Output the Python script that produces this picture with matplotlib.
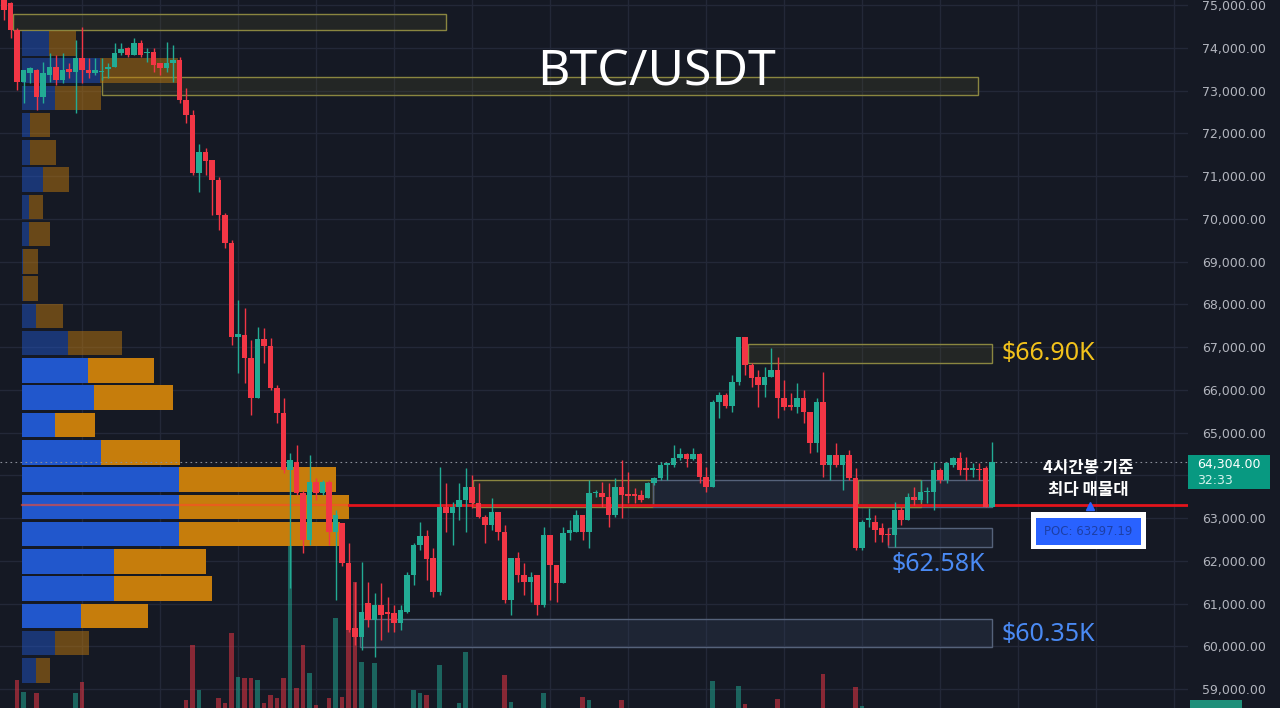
import matplotlib
matplotlib.use('Agg')
import matplotlib.pyplot as plt
from matplotlib.patches import Rectangle
import matplotlib.transforms as mtrans
from matplotlib.ticker import FuncFormatter
import numpy as np

# ---------------- data ----------------
opens = [75117, 75047, 74415, 73199, 73410, 73480, 72848, 73363, 73550, 73246,
         73503, 73433, 73760, 73480, 73410, 73433, 73503, 73550, 73877, 73994,
         73831, 74111, 73877, 73901, 73643, 73526, 73643, 73714, 72778, 72427,
         71070, 71562, 71375, 70907, 70088, 69433, 67234, 67281, 66744, 65808,
         67188, 67024, 66042, 65457, 64124, 64311, 63586, 62486, 63843, 63586,
         63843, 62673, 62884, 61949, 60428, 60217, 61013, 60615, 60966, 60802,
         60779, 60545, 60802, 61668, 62370, 62580, 62066, 61270, 63258, 63117,
         63258, 63422, 63726, 63352, 63024, 62837, 63141, 62673, 61083, 62066,
         61668, 61504, 61668, 60966, 62603, 61902, 61481, 62650, 62673, 63071,
         62673, 63586, 63586, 63493, 63071, 63726, 63562, 63562, 63539, 63469,
         63820, 63937, 64241, 64241, 64405, 64499, 64381, 64499, 63960, 63726,
         65714, 65878, 65621, 66182, 67234, 66580, 66299, 66112, 66299, 66463,
         65808, 65644, 65597, 65808, 65480, 64755, 65714, 64241, 64475, 64241,
         64475, 63937, 62300, 62954, 62907, 62767, 62627, 62603, 63188, 62954,
         63493, 63422, 63609, 63609, 64124, 63890, 64241, 64405, 64171, 64124,
         64148, 64171, 63258]
highs = [75187, 75070, 74462, 73480, 73550, 73503, 73667, 73877, 73831, 73877,
         73643, 74181, 74485, 73760, 73760, 73760, 73643, 74111, 74111, 74018,
         74228, 74181, 73994, 73994, 73643, 74135, 74065, 73784, 73059, 72544,
         71749, 71655, 71375, 70977, 70135, 69503, 68100, 67913, 67164, 67468,
         67445, 67211, 66112, 65808, 64522, 64709, 63656, 64475, 63937, 63890,
         63890, 63188, 62884, 62417, 61504, 61972, 61504, 61247, 61481, 61153,
         60966, 60966, 61738, 62417, 62907, 62720, 62300, 64194, 63820, 63376,
         63820, 64171, 64007, 63820, 63071, 63469, 63141, 62837, 62066, 62206,
         61949, 61738, 61668, 62790, 62603, 61902, 62790, 62954, 63188, 63071,
         63890, 63656, 63843, 63820, 63937, 64358, 64077, 63703, 63656, 63843,
         63960, 64311, 64287, 64709, 64638, 64522, 64638, 64522, 64194, 65761,
         65948, 65925, 66346, 67234, 67234, 66626, 66463, 66533, 66977, 66767,
         66229, 65925, 66159, 65995, 65480, 65808, 66416, 64475, 64755, 64475,
         64592, 64171, 62954, 63235, 63071, 62884, 62767, 63376, 63258, 63586,
         63726, 63890, 63726, 64311, 64171, 64311, 64428, 64545, 64428, 64287,
         64287, 64217, 64779]
lows = [74649, 74228, 73012, 72708, 73176, 72544, 72708, 73199, 73129, 73176,
        73293, 72474, 73176, 73293, 73363, 73246, 73293, 73550, 73831, 73784,
        73831, 73784, 73667, 73433, 73363, 73433, 73199, 72708, 72240, 71024,
        70626, 71024, 70088, 69737, 69316, 67047, 66392, 66159, 65410, 65808,
        66626, 65995, 65223, 64054, 61364, 63539, 62183, 62370, 63422, 63539,
        62370, 61083, 61879, 60334, 60030, 59913, 60451, 59750, 60147, 60334,
        60334, 60381, 60779, 61434, 62253, 61551, 61153, 61200, 62673, 62370,
        62954, 62673, 63235, 63001, 62417, 62720, 62486, 61013, 60732, 61504,
        61200, 61036, 60732, 60919, 61083, 61036, 61481, 62486, 62673, 62486,
        62300, 63493, 63258, 62790, 63024, 63001, 63352, 63352, 63376, 63469,
        63773, 63890, 63890, 64194, 64358, 64194, 64358, 63820, 63609, 63726,
        65340, 65574, 65480, 66112, 66346, 66065, 65597, 65831, 66299, 65340,
        65527, 65527, 65457, 65223, 64522, 64545, 63960, 63890, 64194, 63656,
        63890, 62253, 62253, 62790, 62439, 62439, 62370, 62323, 62837, 62954,
        63305, 63376, 63352, 63188, 63820, 63820, 64194, 64007, 63890, 63960,
        63890, 63258, 63258]
closes = [74883, 74415, 73199, 73480, 73526, 72848, 73410, 73550, 73246, 73480,
          73433, 73760, 73480, 73410, 73480, 73457, 73550, 73877, 73971, 73831,
          74111, 73831, 73901, 73597, 73526, 73643, 73714, 72778, 72427, 71070,
          71562, 71351, 70907, 70088, 69433, 67234, 67305, 66744, 65808, 67188,
          67024, 66042, 65457, 64124, 64358, 63586, 62486, 63843, 63586, 63843,
          62673, 63071, 61949, 60381, 60217, 60802, 60615, 60966, 60732, 60756,
          60545, 60849, 61668, 62370, 62580, 62043, 61270, 63258, 63117, 63258,
          63422, 63726, 63352, 63024, 62837, 63141, 62673, 61083, 62066, 61668,
          61504, 61621, 60966, 62603, 61902, 61481, 62650, 62720, 63071, 62673,
          63586, 63609, 63493, 63071, 63726, 63539, 63516, 63516, 63422, 63820,
          63937, 64241, 64287, 64405, 64499, 64381, 64499, 63960, 63726, 65714,
          65878, 65621, 66182, 67234, 66580, 66276, 66112, 66299, 66463, 65808,
          65597, 65597, 65808, 65480, 64755, 65714, 64241, 64475, 64241, 64475,
          63937, 62300, 62907, 63001, 62720, 62603, 62603, 63188, 62954, 63493,
          63422, 63609, 63632, 64124, 63890, 64287, 64405, 64124, 64124, 64171,
          64124, 63258, 64304]
# visible volume (x100 BTC, visible part of the volume pane)
volumes = [0, 0, 28, 16, 0, 15, 0, 0, 0, 0,
           0, 15, 26, 0, 0, 0, 0, 0, 0, 0,
           0, 0, 0, 0, 0, 0, 0, 0, 8, 63,
           18, 0, 0, 10, 5, 75, 31, 30, 30, 28,
           5, 13, 10, 30, 163, 20, 63, 35, 3, 0,
           10, 90, 11, 78, 126, 46, 0, 45, 0, 0,
           0, 0, 0, 18, 15, 13, 0, 43, 0, 0,
           5, 56, 0, 0, 0, 0, 0, 33, 6, 0,
           0, 0, 0, 15, 0, 0, 0, 0, 0, 11,
           8, 0, 0, 0, 0, 8, 0, 0, 0, 0,
           0, 0, 0, 0, 0, 0, 0, 0, 0, 27,
           0, 0, 0, 22, 4, 0, 0, 0, 0, 9,
           0, 0, 0, 0, 0, 0, 34, 0, 0, 0,
           0, 21, 2, 0, 0, 0, 0, 0, 0, 0,
           0, 0, 0, 0, 0, 0, 0, 0, 0, 0,
           0, 0, 0]

# volume profile (top bin first)
prof_top = 74420
prof_step = 637.5
prof_up = [27, 78, 33, 8, 8, 21, 7, 7, 1, 1, 14, 46, 66, 72, 33, 79, 157, 157, 157, 92, 92, 59, 33, 14]
prof_down = [27, 78, 46, 20, 26, 26, 14, 21, 15, 15, 27, 54, 66, 79, 40, 79, 157, 170, 161, 92, 98, 67, 34, 14]
va_rows = (12, 21)   # value-area bins (bright)
poc_price = 63297.19

# zones: (start idx, end idx, low, high, kind)
zones = [(1.4, 68.0, 74415, 74790, 'y'),
         (15.0, 149.8, 72895, 73316, 'y'),
         (114.5, 152.0, 66626, 67071, 'y'),
         (72.2, 99.8, 63258, 63890, 'y'),
         (99.8, 152.0, 63258, 63890, 'g'),
         (131.4, 141.0, 63258, 63890, 'y'),
         (136.0, 152.0, 62323, 62767, 'g'),
         (54.8, 152.0, 59984, 60638, 'g')]

labels = [(153.5, 66848, '$66.90K', '#f2c21b', 'left'),
          (143.7, 61925, '$62.58K', '#4a8af4', 'center'),
          (153.5, 60287, '$60.35K', '#4a8af4', 'left')]

yticks = list(range(59000, 75001, 1000))

# ---------------- style ----------------
BG = '#151924'
UP = '#22ab94'
DOWN = '#f23645'
GRID = '#232838'
W_PX = 1188
PX = 6.5
last = closes[-1]

fig = plt.figure(figsize=(12.8, 7.08), dpi=100, facecolor=BG)
ax = fig.add_axes([0, 0, W_PX / 1280, 1])
ax.set_facecolor(BG)
xmin = -4 / PX
ax.set_xlim(xmin, xmin + W_PX / PX)
ax.set_ylim(75117 - 708 * 23.39, 75117)
for s in ax.spines.values():
    s.set_visible(False)

ax.set_xticks(np.arange(12, 181, 12))
ax.set_yticks(yticks)
ax.grid(True, color=GRID, lw=1)
ax.set_axisbelow(True)
ax.tick_params(axis='x', length=0, labelbottom=False)
ax.yaxis.tick_right()
ax.tick_params(axis='y', length=0, pad=10, labelsize=9, labelcolor='#b2b5be')
# the tick hidden behind the last-price label is left blank
ax.yaxis.set_major_formatter(FuncFormatter(lambda v, p: '' if abs(v - last) < 500 else f'{v:,.2f}'))
for t in ax.get_yticklabels():
    t.set_family('DejaVu Sans')

idx = np.arange(len(closes))
o = np.array(opens); c = np.array(closes); h = np.array(highs); l = np.array(lows)
up = c >= o
cols = np.where(up, UP, DOWN)

# volume bars
vol_tf = mtrans.blended_transform_factory(ax.transData, mtrans.Affine2D().scale(1, 1 / 708) + ax.transAxes)
for i, v in enumerate(volumes):
    if v > 0:
        ax.add_patch(Rectangle((i - 0.38, 0), 0.76, v, transform=vol_tf, facecolor=cols[i],
                               alpha=0.52, lw=0, zorder=1))

# zones
for x0, x1, lo, hi, kind in zones:
    if kind == 'y':
        fc, ec, fa = '#5e5b2c', '#8a8640', 0.2
    else:
        fc, ec, fa = '#33425c', '#55627a', 0.3
    ax.add_patch(Rectangle((x0, lo), x1 - x0, hi - lo, facecolor=fc, alpha=fa, lw=0, zorder=1.5))
    ax.add_patch(Rectangle((x0, lo), x1 - x0, hi - lo, facecolor='none', edgecolor=ec, lw=1, zorder=1.6))

# volume profile
prof_tf = mtrans.blended_transform_factory(
    mtrans.Affine2D().scale(1 / W_PX, 1).translate(22 / W_PX, 0) + ax.transAxes, ax.transData)
for k, (u, d) in enumerate(zip(prof_up, prof_down)):
    top = prof_top - k * prof_step
    y0 = top - prof_step + prof_step * 0.05
    hh = prof_step * 0.9
    a = 1.0 if va_rows[0] <= k <= va_rows[1] else 0.48
    ax.add_patch(Rectangle((0, y0), u, hh, transform=prof_tf, facecolor='#2157cc', alpha=a, lw=0, zorder=2))
    ax.add_patch(Rectangle((u, y0), d, hh, transform=prof_tf, facecolor='#c67d0c', alpha=a, lw=0, zorder=2))

poc_k = int((prof_top - poc_price) // prof_step)
poc_w = prof_up[poc_k] + prof_down[poc_k]
ax.axhline(poc_price, xmin=22 / W_PX, xmax=(22 + poc_w) / W_PX, color='#ff4a2a', lw=1.6, alpha=0.6, zorder=2.5)
ax.axhline(poc_price, xmin=(22 + poc_w) / W_PX, xmax=1, color='#e3141c', lw=2, zorder=2.8)

# current price dotted line
ax.axhline(last, color='#8a8e99', ls=(0, (1.5, 3)), lw=0.8, zorder=2.7)

# candles
ax.vlines(idx, l, h, colors=cols, lw=1, zorder=3)
body_lo = np.minimum(o, c)
body_h = np.maximum(np.abs(c - o), 25)
ax.bar(idx, body_h, bottom=body_lo, width=0.78, color=cols, lw=0, zorder=4)

# title and labels
fig.text(657 / 1280, 1 - 72 / 708, 'BTC/USDT', ha='center', va='center', color='white',
         fontsize=36, family='Noto Sans', weight=500)
for x, y, s, col, ha in labels:
    ax.text(x, y, s, color=col, fontsize=18, ha=ha, va='center', family='Noto Sans', zorder=6)

ax.text(166.8, 63913, '4시간봉 기준\n최다 매물대', ha='center', va='center', color='white',
        fontsize=12, weight='bold', family=['Noto Sans CJK KR', 'DejaVu Sans'], linespacing=1.3, zorder=6)

# POC box
ax.add_patch(Rectangle((158.0, 62277), 17.7, 864, facecolor='white', lw=0, zorder=6))
ax.add_patch(Rectangle((158.8, 62370), 16.1, 631, facecolor='#2962ff', lw=0, zorder=7))
ax.text(166.8, 62685, f'POC: {poc_price:.2f}', ha='center', va='center', color='#1d3fa6',
        fontsize=8.5, zorder=8, family='DejaVu Sans')
ax.plot([167.0], [poc_price - 20], marker='^', color='#2962ff', ms=6, zorder=7, lw=0)

# last price label on the axis
bt = mtrans.blended_transform_factory(ax.transAxes, ax.transData)
ax.add_patch(Rectangle((1.0, last - 620), 82 / W_PX, 790, transform=bt, facecolor='#089981',
                       lw=0, clip_on=False, zorder=9))
ax.text(1 + 9 / W_PX, last - 40, f'{last:,.2f}', transform=bt, color='white', fontsize=9,
        va='center', ha='left', zorder=10, clip_on=False, family='DejaVu Sans')
ax.text(1 + 9 / W_PX, last - 420, '32:33', transform=bt, color='#d6f3ee', fontsize=9,
        va='center', ha='left', zorder=10, clip_on=False, family='DejaVu Sans')

fig.patches.append(Rectangle((1190 / 1280, 0), 52 / 1280, 8 / 708, transform=fig.transFigure,
                             facecolor='#1f8f7a', lw=0))

fig.savefig('out.png', dpi=100, facecolor=BG)
